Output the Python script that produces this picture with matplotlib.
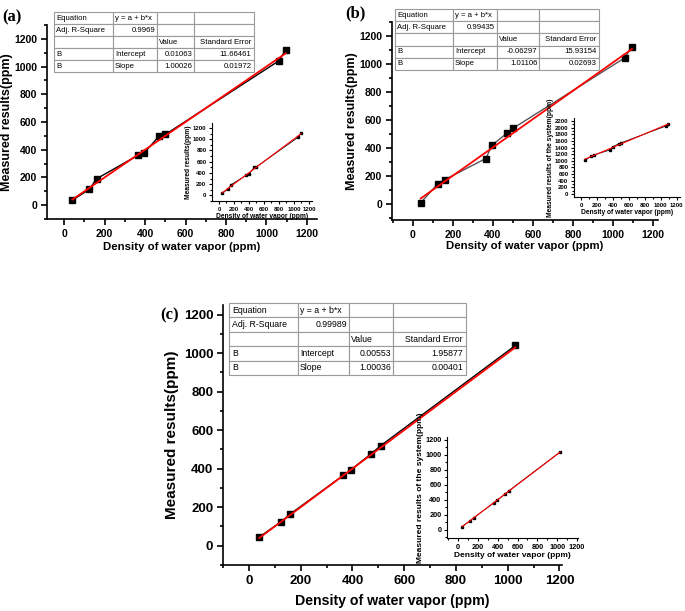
import numpy as np
import matplotlib
matplotlib.use('Agg')
import matplotlib.pyplot as plt
from matplotlib.ticker import MultipleLocator

plt.rcParams['font.family'] = ['Liberation Sans', 'DejaVu Sans']

# (a) measured data
xa = [40, 125, 160, 365, 395, 470, 500, 1060, 1095]
ya = [35, 115, 190, 360, 375, 500, 510, 1040, 1120]
fit_a = (0.01063, 1.00026)
table_a = [['Equation', 'y = a + b*x', '', ''],
           ['Adj. R-Square', '0.9969', '', ''],
           ['', '', 'Value', 'Standard Error'],
           ['B', 'Intercept', '0.01063', '11.66461'],
           ['B', 'Slope', '1.00026', '0.01972']]

# (b) measured data
xb = [40, 125, 160, 365, 395, 470, 500, 1060, 1095]
yb = [10, 145, 175, 325, 420, 505, 540, 1045, 1125]
fit_b = (-0.06297, 1.01106)
xb_in = [50, 125, 160, 365, 395, 470, 500, 1060, 1095]
yb_in = [1010, 1140, 1175, 1330, 1420, 1510, 1540, 2045, 2120]
table_b = [['Equation', 'y = a + b*x', '', ''],
           ['Adj. R-Square', '0.99435', '', ''],
           ['', '', 'Value', 'Standard Error'],
           ['B', 'Intercept', '-0.06297', '15.93154'],
           ['B', 'Slope', '1.01106', '0.02693']]

# (c) measured data
xc = [40, 125, 160, 365, 395, 470, 510, 1030]
yc = [45, 125, 165, 365, 395, 475, 520, 1040]
fit_c = (0.00553, 1.00036)
table_c = [['Equation', 'y = a + b*x', '', ''],
           ['Adj. R-Square', '0.99989', '', ''],
           ['', '', 'Value', 'Standard Error'],
           ['B', 'Intercept', '0.00553', '1.95877'],
           ['B', 'Slope', '1.00036', '0.00401']]

xlabel = 'Density of water vapor (ppm)'
W, H = 685, 611
fig = plt.figure(figsize=(W / 100, H / 100), dpi=100)


def box(l, t, r, b):
    return [l / W, 1 - b / H, (r - l) / W, (b - t) / H]


def style(ax, major_x, major_y, fs, lw=1.2, tl=4, pad=3):
    for s in ['top', 'right']:
        ax.spines[s].set_visible(False)
    for s in ['left', 'bottom']:
        ax.spines[s].set_linewidth(lw)
    ax.xaxis.set_major_locator(MultipleLocator(major_x))
    ax.xaxis.set_minor_locator(MultipleLocator(major_x / 2))
    ax.yaxis.set_major_locator(MultipleLocator(major_y))
    ax.yaxis.set_minor_locator(MultipleLocator(major_y / 2))
    ax.tick_params(which='major', direction='out', length=tl, width=lw, labelsize=fs, pad=pad)
    ax.tick_params(which='minor', direction='out', length=tl * 0.6, width=lw)
    for t in ax.get_xticklabels() + ax.get_yticklabels():
        t.set_fontweight('bold')
    ax.patch.set_alpha(0)


def main_panel(rect, x, y, fit, xlim, ylim, fs, xfs, yfs, lab_xy, line_color='black'):
    ax = fig.add_axes(rect)
    ax.plot(x, y, color=line_color, lw=1.0)
    ax.plot(x, y, 's', color='black', ms=4, zorder=3)
    xf = np.array([x[0], x[-1]])
    ax.plot(xf, fit[0] + fit[1] * xf, color='red', lw=1.3, zorder=4)
    ax.set_xlim(*xlim)
    ax.set_ylim(*ylim)
    style(ax, 200, 200, fs)
    ax.set_xlabel(xlabel, fontsize=xfs, fontweight='bold')
    ax.set_ylabel('Measured results(ppm)', fontsize=yfs, fontweight='bold')
    ax.yaxis.set_label_coords(lab_xy[0], 0.5)
    ax.xaxis.set_label_coords(0.5, lab_xy[1])
    return ax


def inset(rect, x, y, xlim, ylim, ymajor, ylab, fs, lfs):
    ax = fig.add_axes(rect)
    ax.plot(x, y, color='black', lw=0.6)
    ax.plot(x, y, 's', color='black', ms=1.5, zorder=3)
    b, a = np.polyfit(x, y, 1)
    xf = np.array([x[0], x[-1]])
    ax.plot(xf, a + b * xf, color='red', lw=0.8, zorder=4)
    ax.set_xlim(*xlim)
    ax.set_ylim(*ylim)
    style(ax, 200, ymajor, fs, lw=0.8, tl=2.5, pad=1.5)
    ax.set_xlabel(xlabel, fontsize=lfs, fontweight='bold', labelpad=1)
    ax.set_ylabel(ylab, fontsize=lfs, fontweight='bold', labelpad=1)
    return ax


def fit_table(rect, rows, cols, fs):
    ax = fig.add_axes(rect)
    ax.axis('off')
    widths = np.array(cols) / sum(cols)
    tb = ax.table(cellText=rows, colWidths=widths, bbox=[0, 0, 1, 1])
    tb.auto_set_font_size(False)
    for (r, c), cell in tb.get_celld().items():
        cell.set_edgecolor('#9a9a9a')
        cell.set_linewidth(0.8)
        cell.set_fontsize(fs)
        cell.PAD = 0.04
        if c == 3 or (c == 2 and r > 2) or (c == 1 and r == 1):
            cell.set_text_props(ha='right')
        else:
            cell.set_text_props(ha='left')
    return ax


# panel (a)
main_panel(box(47, 25, 317, 219), xa, ya, fit_a, (-85, 1250), (-100, 1300), 7.5, 8.2, 9,
           (-0.125, -0.12))
inset(box(212, 123, 312, 201), xa, ya, (-93, 1240), (-100, 1290), 200,
      'Measured results(ppm)', 4.3, 4.8)
fit_table(box(54, 12, 254, 72), table_a, [59, 44, 37, 60], 5.6)
fig.text(2 / W, 1 - 17 / H, '(a)', family='Liberation Serif', fontweight='bold',
         fontsize=12, va='center')

# panel (b)
main_panel(box(392, 22, 658, 220), xb, yb, fit_b, (-104, 1225), (-114, 1300), 7.5, 8.2, 9,
           (-0.128, -0.108), line_color='#555555')
inset(box(574, 118, 680, 197), xb_in, yb_in, (-88, 1240), (-90, 2290), 200,
      'Measured results of the system(ppm)', 4.3, 4.8)
fit_table(box(395, 9, 599, 70), table_b, [58, 44, 42, 60], 5.6)
fig.text(345 / W, 1 - 13 / H, '(b)', family='Liberation Serif', fontweight='bold',
         fontsize=12, va='center')

# panel (c)
main_panel(box(223, 305, 562, 565), xc, yc, fit_c, (-100, 1210), (-100, 1250), 9.5, 10.2, 11,
           (-0.13, -0.11))
inset(box(447, 437, 578, 538), xc, yc, (-111, 1210), (-107, 1240), 200,
      'Measured results of the system(ppm)', 5.3, 6)
fit_table(box(229, 303, 466, 375), table_c, [69, 51, 44, 73], 6.3)
fig.text(160 / W, 1 - 315 / H, '(c)', family='Liberation Serif', fontweight='bold',
         fontsize=12, va='center')

fig.savefig('out.png', dpi=100)
